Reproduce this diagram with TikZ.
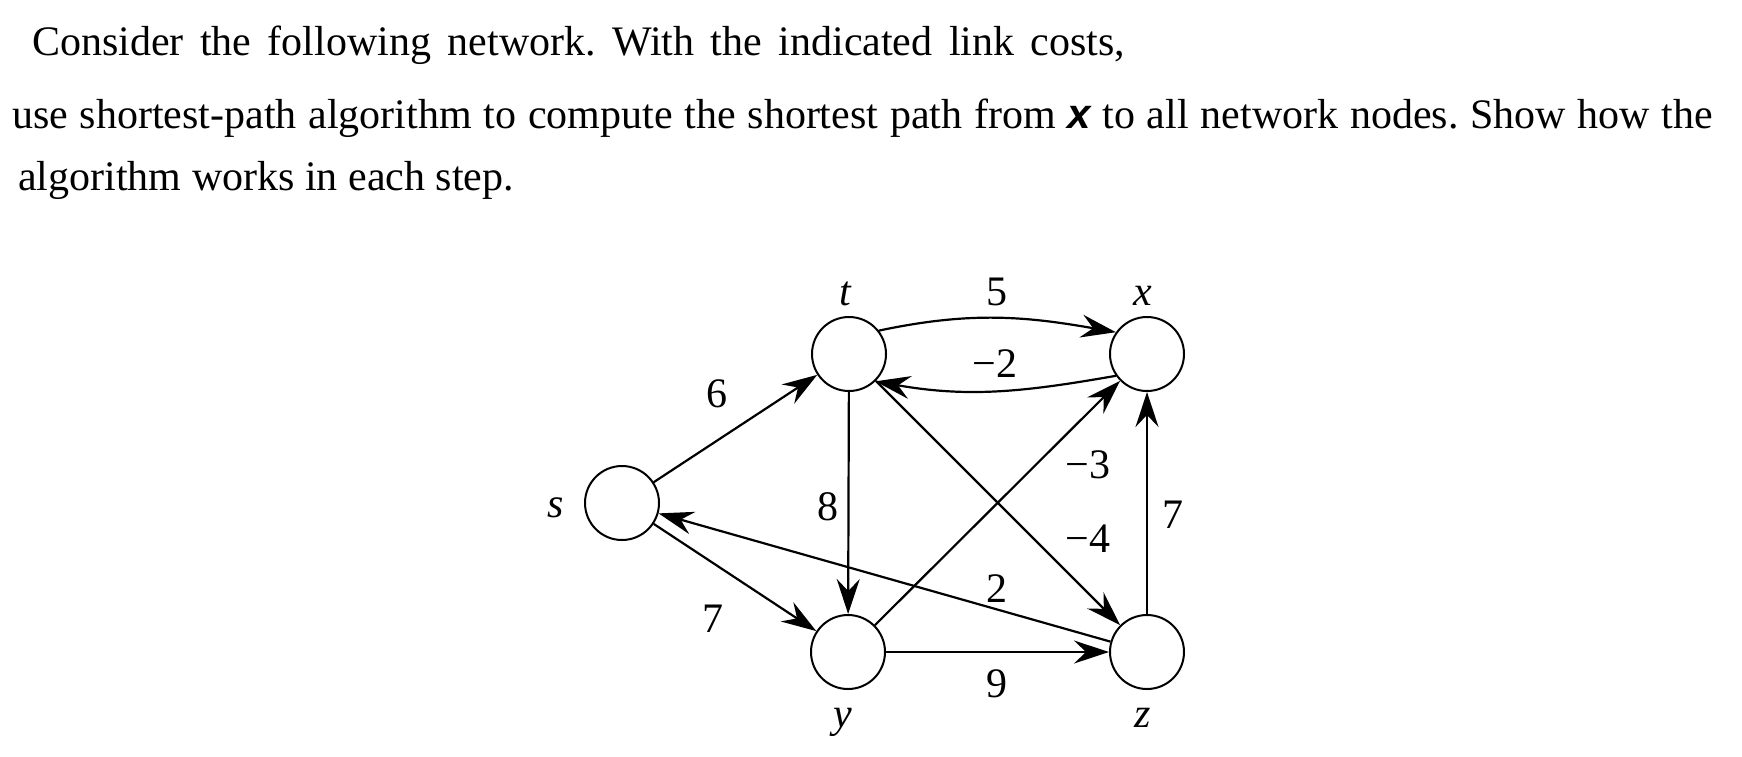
\documentclass[tikz,border=0pt]{standalone}
\usepackage{fontspec}
\setmainfont{Liberation Serif}[ItalicFont={Liberation Serif Italic}]
\newfontfamily\sansx{Liberation Sans}
\usetikzlibrary{arrows.meta}
\frenchspacing
\begin{document}
\begin{tikzpicture}[x=1pt,y=1pt,
  vert/.style={circle, draw, line width=2pt, minimum size=74pt, inner sep=0pt},
  edge/.style={line width=2.2pt, -{Stealth[length=35pt,width=23pt,inset=12pt]}},
  lbl/.style={font=\fontsize{42}{50}\selectfont\itshape, anchor=base, inner sep=0pt},
  num/.style={font=\fontsize{42}{50}\selectfont, anchor=base, inner sep=0pt},
  txt/.style={font=\fontsize{42}{50}\selectfont, anchor=base west, inner sep=0pt}]
\useasboundingbox (0,0) rectangle (1742,-756);
\fill[white] (0,0) rectangle (1742,-756);
% text
\node[txt] (l1) at (32,-55) {\makebox[1093pt][s]{Consider the following network. With the indicated link costs,}};
\node[txt] (l2) at (12,-128) {\makebox[1701pt][s]{use shortest-path algorithm to compute the shortest path from {\sansx\bfseries\itshape x} to all network nodes. Show how the}};
\node[txt] (l3) at (18,-190) {algorithm works in each step.};
% vertices
\node[vert] (s) at (622,-503) {};
\node[vert] (t) at (849,-354) {};
\node[vert] (x) at (1147,-354) {};
\node[vert] (y) at (848,-652) {};
\node[vert] (z) at (1147,-652) {};
% vertex labels
\node[lbl] (ls) at (556,-517) {s};
\node[lbl] (lt) at (845,-305) {t};
\node[lbl] (lx) at (1143,-305) {x};
\node[lbl] (ly) at (843,-727) {y};
\node[lbl] (lz) at (1143,-727) {z};
% edges
\draw[edge] (s) -- (t);
\draw[edge] (s) -- (y);
\draw[edge] (z) -- (s);
\draw[edge] (t.38) to[out=12,in=170] (x.145);
\draw[edge] (x.215) to[out=190,in=-10] (t.-46);
\draw[edge] (t) -- (y);
\draw[edge] (t) -- (z);
\draw[edge] (y) -- (x);
\draw[edge] (y) -- (z);
\draw[edge] (z) -- (x);
% edge labels
\node[num] (c5) at (997,-305) {5};
\node[num] (cm2) at (995,-377) {−2};
\node[num] (c6) at (717,-407) {6};
\node[num] (c8) at (828,-520) {8};
\node[num] (c7a) at (713,-632) {7};
\node[num] (cm3) at (1088,-478) {−3};
\node[num] (cm4) at (1088,-552) {−4};
\node[num] (c7b) at (1173,-528) {7};
\node[num] (c2) at (997,-602) {2};
\node[num] (c9) at (997,-697) {9};
\end{tikzpicture}
\end{document}
